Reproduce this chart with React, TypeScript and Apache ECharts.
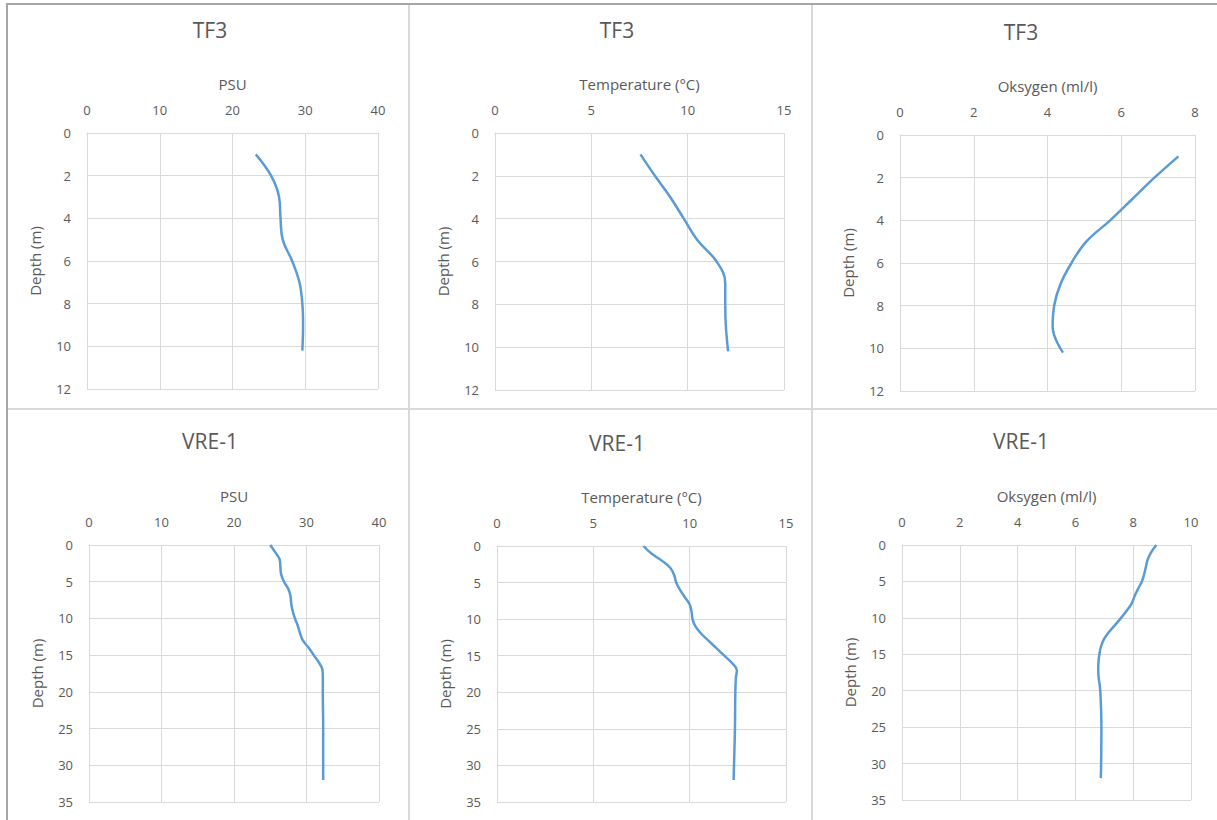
import React, { useEffect, useRef } from "react";
import * as echarts from "echarts";

// ---- Data ----
const stations = ["TF3", "TF3", "TF3", "VRE-1", "VRE-1", "VRE-1"];
const axisNames = ["PSU", "Temperature (°C)", "Oksygen (ml/l)", "PSU", "Temperature (°C)", "Oksygen (ml/l)"];
const depthLabel = "Depth (m)";

// [value, depth]
const tf3Psu: number[][] = [
  [23.2, 1], [25.3, 2], [26.4, 3], [26.6, 4], [26.9, 5], [28.2, 6], [29.2, 7], [29.6, 8], [29.7, 9], [29.6, 10.2],
];
const tf3Temp: number[][] = [
  [7.55, 1], [8.3, 2], [9.1, 3], [9.8, 4], [10.5, 5], [11.5, 6], [11.95, 7], [11.95, 8], [11.98, 9], [12.1, 10.2],
];
const tf3Oxy: number[][] = [
  [7.55, 1], [6.9, 2], [6.3, 3], [5.7, 4], [5.05, 5], [4.65, 6], [4.35, 7], [4.18, 8], [4.14, 9], [4.42, 10.2],
];
const vrePsu: number[][] = [
  [25.0, 0], [25.7, 1], [26.3, 2], [26.4, 3], [26.5, 4], [26.9, 5], [27.5, 6], [27.8, 7], [27.9, 8], [28.1, 9],
  [28.4, 10], [28.8, 11], [29.1, 12], [29.5, 13], [30.3, 14], [31.0, 15], [31.7, 16], [32.2, 17], [32.25, 18],
  [32.25, 20], [32.3, 25], [32.3, 30], [32.3, 32],
];
const vreTemp: number[][] = [
  [7.6, 0], [8.0, 1], [8.55, 2], [9.0, 3], [9.2, 4], [9.3, 5], [9.5, 6], [9.75, 7], [10.0, 8], [10.1, 9],
  [10.15, 10], [10.3, 11], [10.6, 12], [11.0, 13], [11.4, 14], [11.8, 15], [12.2, 16], [12.45, 17], [12.4, 18],
  [12.37, 20], [12.35, 25], [12.3, 30], [12.28, 32],
];
const vreOxy: number[][] = [
  [8.8, 0], [8.62, 1], [8.5, 2], [8.44, 3], [8.38, 4], [8.3, 5], [8.17, 6], [8.05, 7], [7.95, 8], [7.78, 9],
  [7.58, 10], [7.37, 11], [7.15, 12], [6.98, 13], [6.88, 14], [6.83, 15], [6.8, 16], [6.79, 17], [6.8, 18],
  [6.86, 20], [6.9, 25], [6.89, 30], [6.88, 32],
];
const seriesData = [tf3Psu, tf3Temp, tf3Oxy, vrePsu, vreTemp, vreOxy];

const xMax = [40, 15, 8, 40, 15, 10];
const xInterval = [10, 5, 2, 10, 5, 2];
const yMax = [12, 12, 12, 35, 35, 35];
const yInterval = [2, 2, 2, 5, 5, 5];

// ---- Layout ----
const grids = [
  { left: 87, top: 133, width: 291, height: 256 },
  { left: 495, top: 133, width: 289, height: 257 },
  { left: 900, top: 135, width: 295, height: 256 },
  { left: 89, top: 545, width: 290, height: 257 },
  { left: 497, top: 546, width: 289, height: 256 },
  { left: 902, top: 545, width: 289, height: 255 },
];
const titlePos = [
  { x: 205, y: 14 }, { x: 612, y: 14 }, { x: 1016, y: 16 },
  { x: 205, y: 425 }, { x: 612, y: 427 }, { x: 1016, y: 425 },
];

const FONT = "Open Sans";
const TEXT = "#595959";
const GRIDC = "#d9d9d9";
const LINE = "#5b9bd5";

export default function App() {
  const ref = useRef<HTMLDivElement>(null);
  useEffect(() => {
    if (!ref.current) return;
    const chart = echarts.init(ref.current, undefined, { renderer: "svg" });
    const option: any = {
      animation: false,
      backgroundColor: "#ffffff",
      textStyle: { fontFamily: FONT },
      title: stations.map((s, i) => ({
        text: s,
        left: titlePos[i].x,
        top: titlePos[i].y,
        textAlign: "center",
        textStyle: { fontFamily: FONT, fontSize: 21, fontWeight: "normal", color: TEXT },
      })),
      grid: grids.map((g) => ({ ...g, containLabel: false })),
      xAxis: grids.map((_, i) => ({
        type: "value",
        gridIndex: i,
        position: "top",
        min: 0,
        max: xMax[i],
        interval: xInterval[i],
        name: axisNames[i],
        nameLocation: "middle",
        nameGap: 42,
        nameTextStyle: { fontFamily: FONT, fontSize: 15, color: TEXT },
        axisLine: { show: true, lineStyle: { color: GRIDC } },
        axisTick: { show: false },
        axisLabel: { margin: 17, fontFamily: FONT, fontSize: 13, color: TEXT },
        splitLine: { show: true, lineStyle: { color: GRIDC, width: 1 } },
      })),
      yAxis: grids.map((_, i) => ({
        type: "value",
        gridIndex: i,
        inverse: true,
        min: 0,
        max: yMax[i],
        interval: yInterval[i],
        name: depthLabel,
        nameLocation: "middle",
        nameGap: 45,
        nameTextStyle: { fontFamily: FONT, fontSize: 15, color: TEXT },
        axisLine: { show: true, lineStyle: { color: GRIDC } },
        axisTick: { show: false },
        axisLabel: { margin: 16, fontFamily: FONT, fontSize: 13, color: TEXT },
        splitLine: { show: true, lineStyle: { color: GRIDC, width: 1 } },
      })),
      series: seriesData.map((d, i) => ({
        type: "line",
        xAxisIndex: i,
        yAxisIndex: i,
        data: d,
        smooth: 0.4,
        symbol: "none",
        lineStyle: { color: LINE, width: 2.5 },
      })),
      graphic: [
        { type: "line", shape: { x1: 409, y1: 4, x2: 409, y2: 820 }, style: { stroke: GRIDC, lineWidth: 2 } },
        { type: "line", shape: { x1: 812, y1: 4, x2: 812, y2: 820 }, style: { stroke: GRIDC, lineWidth: 2 } },
        { type: "line", shape: { x1: 7, y1: 409, x2: 1217, y2: 409 }, style: { stroke: GRIDC, lineWidth: 2 } },
        { type: "line", shape: { x1: 6, y1: 4, x2: 1217, y2: 4 }, style: { stroke: "#a6a6a6", lineWidth: 2 } },
        { type: "line", shape: { x1: 7, y1: 3, x2: 7, y2: 820 }, style: { stroke: "#a6a6a6", lineWidth: 2 } },
      ],
    };
    chart.setOption(option);
    return () => chart.dispose();
  }, []);
  return (
    <div
      ref={ref}
      style={{ position: "absolute", left: 0, top: 0, width: 1217, height: 820 }}
    />
  );
}
